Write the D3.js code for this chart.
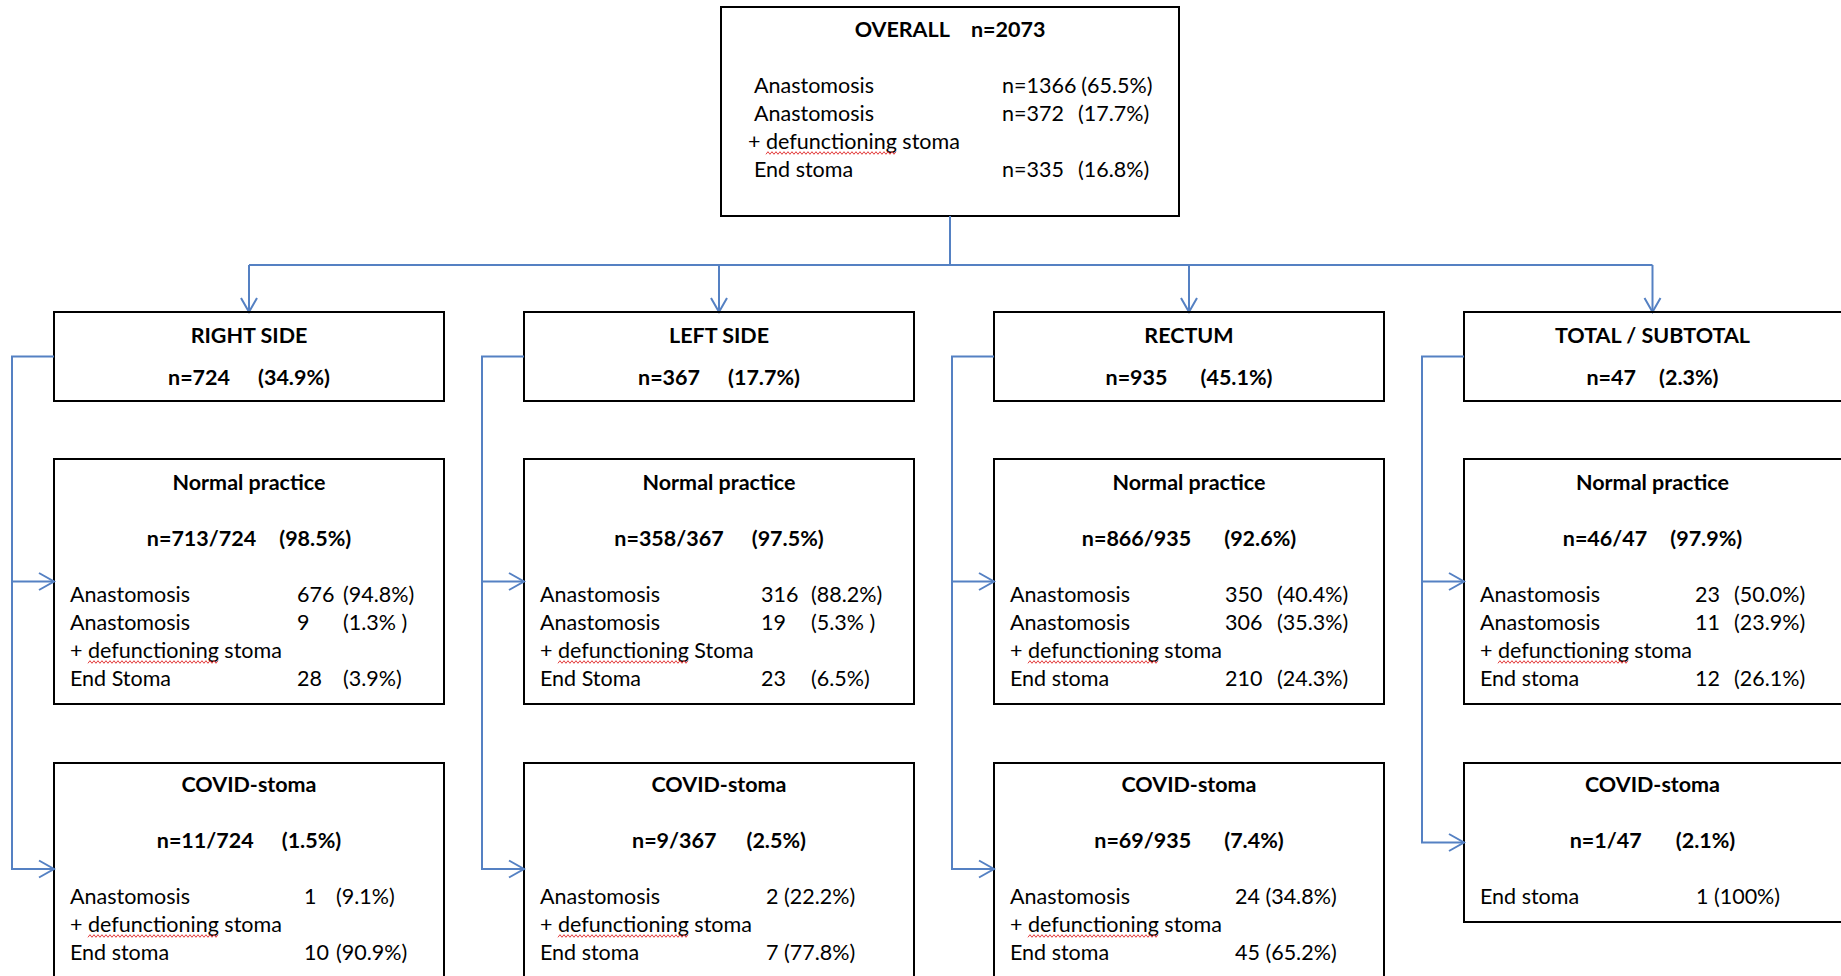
<!DOCTYPE html>
<html>
<head>
<meta charset="utf-8">
<script src="https://cdn.jsdelivr.net/npm/d3@7"></script>
<style>
  body { margin: 0; background: #fff; }
  svg text { font-family: Lato, "Open Sans", sans-serif; font-size: 21.5px; fill: #000; white-space: pre; }
  svg text.bold { font-weight: 700; }
</style>
</head>
<body>
<script>
// ---- values ----
const overallTitle = ["OVERALL", "n=2073"]
const overallRows = [
    ["Anastomosis", "n=1366", "(65.5%)"],
    ["Anastomosis", "n=372", "(17.7%)"],
    ["+ defunctioning stoma"],
    ["End stoma", "n=335", "(16.8%)"]
]

const columns = ["RIGHT SIDE", "LEFT SIDE", "RECTUM", "TOTAL / SUBTOTAL"]
const columnN = ["n=724", "n=367", "n=935", "n=47"]
const columnPct = ["(34.9%)", "(17.7%)", "(45.1%)", "(2.3%)"]

const normalN = ["n=713/724", "n=358/367", "n=866/935", "n=46/47"]
const normalPct = ["(98.5%)", "(97.5%)", "(92.6%)", "(97.9%)"]
const normalRows = [
    [["Anastomosis", "676", "(94.8%)"], ["Anastomosis", "9", "(1.3% )"], ["+ defunctioning stoma"], ["End Stoma", "28", "(3.9%)"]],
    [["Anastomosis", "316", "(88.2%)"], ["Anastomosis", "19", "(5.3% )"], ["+ defunctioning Stoma"], ["End Stoma", "23", "(6.5%)"]],
    [["Anastomosis", "350", "(40.4%)"], ["Anastomosis", "306", "(35.3%)"], ["+ defunctioning stoma"], ["End stoma", "210", "(24.3%)"]],
    [["Anastomosis", "23", "(50.0%)"], ["Anastomosis", "11", "(23.9%)"], ["+ defunctioning stoma"], ["End stoma", "12", "(26.1%)"]]
]

const covidN = ["n=11/724", "n=9/367", "n=69/935", "n=1/47"]
const covidPct = ["(1.5%)", "(2.5%)", "(7.4%)", "(2.1%)"]
const covidRows = [
    [["Anastomosis", "1", "(9.1%)"], ["+ defunctioning stoma"], ["End stoma", "10", "(90.9%)"]],
    [["Anastomosis", "2", "(22.2%)"], ["+ defunctioning stoma"], ["End stoma", "7", "(77.8%)"]],
    [["Anastomosis", "24", "(34.8%)"], ["+ defunctioning stoma"], ["End stoma", "45", "(65.2%)"]],
    [["End stoma", "1", "(100%)"]]
]

// ---- layout ----
const W = 1841, H = 976
const lineColor = "#5581c3"
const lineStep = 28

const overallBox = { x: 721, y: 7, w: 458, h: 209 }
const rowSide = { y: 312, h: 89 }
const rowNormal = { y: 459, h: 245 }
const rowCovid = { y: 763 }
const covidBottom = [979, 979, 979, 922]

// x offsets of the count and percent columns inside each box
const normalCountX = [243, 237, 231, 231]
const normalPctX = [289, 287, 283, 270]
const covidCountX = [250, 242, 241, 232]
const covidPctX = [282, null, null, null]

// gaps between the bold "n=" and the bold percent
const sideGap = [28, 28, 33, 23]
const normalGap = [23, 28, 33, 23]
const covidGap = [28, 30, 33, 34]

const svg = d3.select("body").append("svg")
    .attr("width", W)
    .attr("height", H)

const x = d3.scaleBand()
    .domain(columns)
    .range([54, 1854])
    .paddingInner(80 / 470)

// centre of the part of a box that is inside the picture
const centre = c => {
    const x0 = x(c)
    return (x0 + Math.min(x0 + x.bandwidth(), W)) / 2
}

function box(x0, y0, w, h) {
    svg.append("rect")
        .attr("x", x0).attr("y", y0)
        .attr("width", w).attr("height", h)
        .attr("fill", "none")
        .attr("stroke", "#000")
        .attr("stroke-width", 2)
}

function header(cx, y, a, b, gap) {
    const t = svg.append("text")
        .attr("class", "bold")
        .attr("x", cx).attr("y", y)
        .attr("text-anchor", "middle")
    t.append("tspan").text(a)
    if (b) t.append("tspan").attr("dx", gap).text(b)
}

function squiggle(x0, x1, y) {
    let pts = []
    for (let px = x0, i = 0; px <= x1; px += 2, i++) pts.push([px, y + (i % 2 ? -1.3 : 1.3)])
    svg.append("path")
        .attr("d", d3.line()(pts))
        .attr("fill", "none")
        .attr("stroke", "#e33b3b")
        .attr("stroke-width", 1)
}

function bodyLine(row, lx, y, countX, pctX) {
    const label = row[0]
    if (label.startsWith("+ defunctioning")) {
        const t = svg.append("text").attr("x", lx).attr("y", y)
        t.append("tspan").text("+ ")
        t.append("tspan").text("defunctioning")
        t.append("tspan").text(label.slice(15))
        const node = t.node()
        const sx = node.getStartPositionOfChar(2).x
        squiggle(sx, sx + node.getSubStringLength(2, 13), y + 4)
    } else {
        svg.append("text").attr("x", lx).attr("y", y).text(label)
    }
    if (row.length < 3) return
    if (pctX == null) {
        svg.append("text").attr("x", countX).attr("y", y).text(row[1] + " " + row[2])
    } else {
        const ct = svg.append("text").attr("x", countX).attr("y", y).text(row[1])
        // keep at least one space between count and percent
        const minX = countX + ct.node().getComputedTextLength() + 5
        svg.append("text").attr("x", Math.max(pctX, minX)).attr("y", y).text(row[2])
    }
}

function arrowDown(px, py) {
    svg.append("path")
        .attr("d", `M${px - 8},${py - 14}L${px},${py}L${px + 8},${py - 14}`)
        .attr("fill", "none").attr("stroke", lineColor).attr("stroke-width", 2)
}

function arrowRight(px, py) {
    svg.append("path")
        .attr("d", `M${px - 15},${py - 8.5}L${px},${py}L${px - 15},${py + 8.5}`)
        .attr("fill", "none").attr("stroke", lineColor).attr("stroke-width", 2)
}

function link(d) {
    svg.append("path")
        .attr("d", d)
        .attr("fill", "none")
        .attr("stroke", lineColor)
        .attr("stroke-width", 2)
}

function draw() {
    // overall box
    const ob = overallBox
    box(ob.x, ob.y, ob.w, ob.h)
    header(ob.x + ob.w / 2, 37, overallTitle[0], overallTitle[1], 21)
    overallRows.forEach((r, i) => {
        const lx = r[0].startsWith("+") ? ob.x + 27 : ob.x + 33
        bodyLine(r, lx, 93 + i * lineStep, ob.x + 281, ob.x + 357)
    })

    // tree from overall to the four sides
    const ocx = ob.x + ob.w / 2
    const busY = 265
    link(`M${ocx},${ob.y + ob.h}V${busY}`)
    link(`M${centre(columns[0])},${busY}H${centre(columns[columns.length - 1])}`)

    columns.forEach((c, i) => {
        const x0 = x(c)
        const bw = x.bandwidth()
        const cx = centre(c)

        link(`M${cx},${busY}V${rowSide.y}`)
        arrowDown(cx, rowSide.y)

        // side box
        box(x0, rowSide.y, bw, rowSide.h)
        header(cx, 343, c)
        header(cx, 385, columnN[i], columnPct[i], sideGap[i])

        // normal practice box
        box(x0, rowNormal.y, bw, rowNormal.h)
        header(cx, 490, "Normal practice")
        header(cx, 546, normalN[i], normalPct[i], normalGap[i])
        normalRows[i].forEach((r, j) => {
            bodyLine(r, x0 + 16, 602 + j * lineStep, x0 + normalCountX[i], x0 + normalPctX[i])
        })

        // covid-stoma box
        const ch = covidBottom[i] - rowCovid.y
        box(x0, rowCovid.y, bw, ch)
        header(cx, 792, "COVID-stoma")
        header(cx, 848, covidN[i], covidPct[i], covidGap[i])
        covidRows[i].forEach((r, j) => {
            bodyLine(r, x0 + 16, 904 + j * lineStep, x0 + covidCountX[i],
                covidPctX[i] == null ? null : x0 + covidPctX[i])
        })

        // side bracket feeding the two sub boxes
        const lx = x0 - 42
        const sideMid = rowSide.y + rowSide.h / 2
        const normalMid = rowNormal.y + rowNormal.h / 2
        const covidMid = (rowCovid.y + Math.min(covidBottom[i], 975)) / 2
        link(`M${x0},${sideMid}H${lx}V${covidMid}H${x0}`)
        link(`M${lx},${normalMid}H${x0}`)
        arrowRight(x0, normalMid)
        arrowRight(x0, covidMid)
    })
}

document.fonts.ready.then(draw)
</script>
</body>
</html>
